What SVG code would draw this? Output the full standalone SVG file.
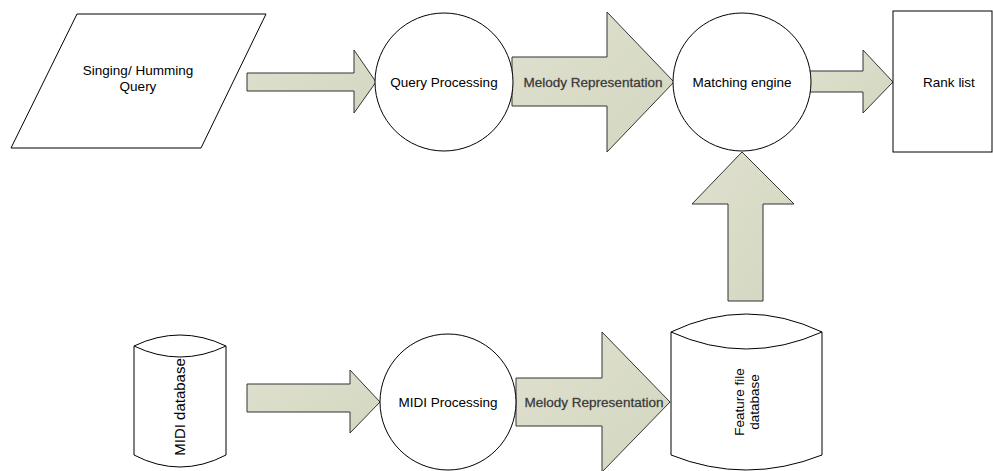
<svg xmlns="http://www.w3.org/2000/svg" width="993" height="471" viewBox="0 0 993 471">
<defs>
<linearGradient id="ag" x1="0" y1="0" x2="1" y2="1">
<stop offset="0" stop-color="#dfe1cf"/>
<stop offset="1" stop-color="#d3d6bf"/>
</linearGradient>
<style>
.shape{fill:#ffffff;stroke:#000000;stroke-width:1}
.arrow{fill:url(#ag);stroke:#333333;stroke-width:1;stroke-linejoin:miter}
.t{font-family:"Liberation Sans",Arial,sans-serif;font-size:13.5px;fill:#000000;text-anchor:middle}
.m{font-family:"Liberation Sans",Arial,sans-serif;font-size:13.5px;fill:#2a2a2a;text-anchor:middle;stroke:#555;stroke-width:0.3}
</style>
</defs>
<rect width="993" height="471" fill="#ffffff"/>
<g id="connectors">
<path class="arrow" d="M247,73 H354 V50 L376,82 L354,113 V91 H247 Z"/>
<path class="arrow" d="M512,57 H607 V12 L674,82 L607,152 V106 H512 Z"/>
<path class="arrow" d="M809,71 H863 V50 L893,82 L863,113 V92 H809 Z"/>
<path class="arrow" d="M728,301 V204 H692 L742,152 L794,204 H763 V301 Z"/>
<path class="arrow" d="M247,384 H350 V370 L380,402 L350,433 V412 H247 Z"/>
<path class="arrow" d="M516,378 H602 V332 L670,402 L602,472 V426 H516 Z"/>
<text class="m" x="593" y="87">Melody Representation</text>
<text class="m" x="594" y="407">Melody Representation</text>
</g>
<g id="singing-query">
<path class="shape" d="M77,14 H266 L201,148 H11 Z"/>
<text class="t" x="138" y="75">Singing/ Humming</text>
<text class="t" x="138" y="91">Query</text>
</g>
<g id="query-processing">
<circle class="shape" cx="444" cy="82" r="69"/>
<text class="t" x="444" y="87">Query Processing</text>
</g>
<g id="matching-engine">
<circle class="shape" cx="742" cy="82" r="69"/>
<text class="t" x="742" y="87">Matching engine</text>
</g>
<g id="rank-list">
<rect class="shape" x="893" y="11" width="99" height="141"/>
<text class="t" x="949" y="87">Rank list</text>
</g>
<g id="midi-database">
<path class="shape" d="M134,346 Q180,324 226,346 V455 Q180,479 134,455 Z"/>
<path class="shape" d="M134,346 Q180,368 226,346" fill="none"/>
<text class="t" style="font-size:15px" transform="translate(185,407) rotate(-90)">MIDI database</text>
</g>
<g id="midi-processing">
<circle class="shape" cx="448" cy="402" r="68"/>
<text class="t" x="448" y="407">MIDI Processing</text>
</g>
<g id="feature-file-database">
<path class="shape" d="M671,332 Q746,296 822,332 V455 Q746,485 671,455 Z"/>
<path class="shape" d="M671,332 Q746,366 822,332" fill="none"/>
<text class="t" transform="translate(747,402) rotate(-90)"><tspan x="0" y="-3">Feature file</tspan><tspan x="0" y="12">database</tspan></text>
</g>
</svg>
